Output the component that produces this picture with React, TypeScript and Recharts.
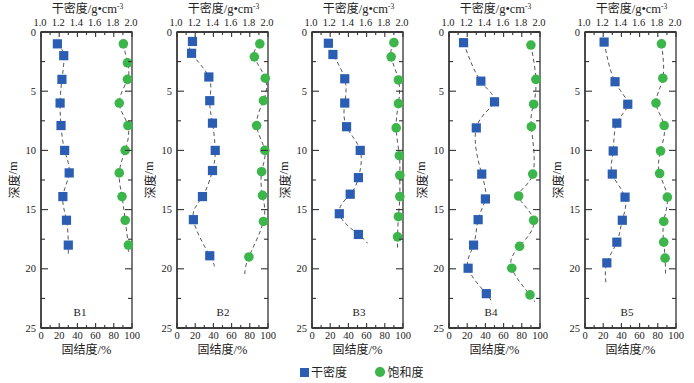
import React from 'react';
import { ScatterChart, Scatter, XAxis, YAxis, ReferenceArea } from 'recharts';

// ---------- tick values ----------
const depthTicks = [0, 2.5, 5, 7.5, 10, 12.5, 15, 17.5, 20, 22.5, 25];
const densityTicks = [1.0, 1.1, 1.2, 1.3, 1.4, 1.5, 1.6, 1.7, 1.8, 1.9, 2.0];
const saturationTicks = [0, 10, 20, 30, 40, 50, 60, 70, 80, 90, 100];
const panelNames = ['B1', 'B2', 'B3', 'B4', 'B5'];

// ---------- B1 ----------
const b1DensityDepth = [1.0, 2.0, 4.0, 6.0, 7.9, 10.0, 11.9, 13.9, 15.9, 18.0];
const b1Density = [1.18, 1.25, 1.23, 1.21, 1.22, 1.26, 1.31, 1.24, 1.28, 1.30];
const b1DensityEnd = [1.30, 18.8];
const b1SatDepth = [1.0, 2.6, 4.0, 6.0, 7.9, 10.0, 11.9, 13.9, 15.9, 18.0];
const b1Sat = [90.5, 95, 95, 86, 95.5, 92.5, 86, 89, 92.5, 96];
const b1SatEnd = [96, 18.6];

// ---------- B2 ----------
const b2DensityDepth = [0.8, 1.8, 3.8, 5.8, 7.7, 10.0, 11.7, 13.9, 15.85, 18.9];
const b2Density = [1.17, 1.16, 1.35, 1.36, 1.39, 1.42, 1.39, 1.28, 1.18, 1.36];
const b2DensityEnd = [1.41, 19.8];
const b2SatDepth = [1.0, 2.1, 3.9, 5.8, 7.9, 10.0, 11.8, 13.8, 16.0, 19.0];
const b2Sat = [91, 85, 97, 95, 87.5, 96.5, 93, 94, 95, 79];
const b2SatEnd = [74.5, 20.5];

// ---------- B3 ----------
const b3DensityDepth = [0.95, 1.9, 3.95, 6.0, 8.0, 10.0, 12.3, 13.7, 15.35, 17.1];
const b3Density = [1.18, 1.23, 1.36, 1.36, 1.38, 1.53, 1.51, 1.42, 1.30, 1.51];
const b3DensityEnd = [1.61, 17.85];
const b3SatDepth = [0.9, 2.1, 4.05, 6.05, 8.1, 10.45, 12.1, 13.9, 15.6, 17.3];
const b3Sat = [90, 87, 95, 95, 92.5, 96, 96.5, 96.5, 95, 94];
const b3SatEnd = [94, 18.4];

// ---------- B4 ----------
const b4DensityDepth = [0.9, 4.15, 5.9, 8.1, 12.0, 14.1, 15.85, 18.0, 19.95, 22.1];
const b4Density = [1.16, 1.35, 1.50, 1.30, 1.36, 1.40, 1.32, 1.27, 1.21, 1.41];
const b4DensityEnd = [1.47, 22.95];
const b4SatDepth = [1.1, 4.0, 6.1, 8.0, 12.0, 13.85, 15.9, 18.1, 19.95, 22.2];
const b4Sat = [90, 95.5, 93, 90.5, 92, 76.5, 93, 77.5, 69, 89];
const b4SatEnd = [94, 22.8];

// ---------- B5 ----------
const b5DensityDepth = [0.85, 4.2, 6.1, 7.7, 10.05, 12.0, 13.95, 15.9, 17.75, 19.5];
const b5Density = [1.21, 1.33, 1.47, 1.35, 1.31, 1.30, 1.44, 1.41, 1.35, 1.24];
const b5DensityEnd = [1.23, 21.2];
const b5SatDepth = [1.0, 3.9, 6.0, 7.9, 10.05, 11.95, 13.95, 16.0, 17.75, 19.1];
const b5Sat = [84, 85.5, 78, 87, 83, 82, 90.5, 86.5, 86.5, 88];
const b5SatEnd = [88.5, 20.4];

const AX = '#333';
const BLUE = '#2b5eb2';
const GREEN = '#3cb54a';
const NUM_FONT = "'Liberation Serif', 'DejaVu Serif', serif";
const CJK_FONT = "'Noto Sans CJK SC', sans-serif";

const CW = 152; // chart width (extra room on the right for edge labels)
const CH = 383;
const YW = 41; // y-axis width
const PW = 91; // plot width
const TOP_H = 32;
const BOT_H = 55;
const PLOT_BOTTOM = CH - BOT_H;

const TopTick = (p: any) => {
  const { x, y, payload } = p;
  const v = payload.value as number;
  const major = Math.round(v * 10) % 2 === 0;
  const len = major ? 5 : 3;
  return (
    <g>
      <line x1={x} y1={y} x2={x} y2={y + len} stroke={AX} strokeWidth={1.1} />
      {major && (
        <text x={x - 1} y={y - 6} textAnchor="middle" fontFamily={NUM_FONT} fontSize={10.5} fill="#222">
          {v.toFixed(1)}
        </text>
      )}
    </g>
  );
};

const BottomTick = (p: any) => {
  const { x, y, payload } = p;
  const v = payload.value as number;
  const major = v % 20 === 0;
  const len = major ? 5 : 3;
  return (
    <g>
      <line x1={x} y1={y} x2={x} y2={y - len} stroke={AX} strokeWidth={1.1} />
      {major && (
        <text x={x} y={y + 11} textAnchor="middle" fontFamily={NUM_FONT} fontSize={10.5} fill="#222">
          {v}
        </text>
      )}
    </g>
  );
};

const LeftTick = (p: any) => {
  const { x, y, payload } = p;
  const v = payload.value as number;
  const major = v % 5 === 0;
  const len = major ? 7 : 4;
  return (
    <g>
      <line x1={x} y1={y} x2={x + len} y2={y} stroke={AX} strokeWidth={1.1} />
      <line x1={x + PW} y1={y} x2={x + PW - len} y2={y} stroke={AX} strokeWidth={1.1} />
      {major && (
        <text x={x - 5} y={y + 3.5} textAnchor="end" fontFamily={NUM_FONT} fontSize={10.5} fill="#222">
          {v}
        </text>
      )}
    </g>
  );
};

const noShape = () => <g />;
const squareShape = (p: any) => (
  <rect x={p.cx - 4.6} y={p.cy - 4.6} width={9.2} height={9.2} fill={BLUE} />
);
const circleShape = (p: any) => <circle cx={p.cx} cy={p.cy} r={4.8} fill={GREEN} />;

const lineStyle = { stroke: '#444', strokeWidth: 0.9, strokeDasharray: '4 3' };

type PanelProps = {
  name: string;
  left: number;
  labelX: number;
  densDepth: number[];
  dens: number[];
  densEnd: number[];
  satDepth: number[];
  sat: number[];
  satEnd: number[];
};

function Panel({ name, left, labelX, densDepth, dens, densEnd, satDepth, sat, satEnd }: PanelProps) {
  const densPts = densDepth.map((d, i) => ({ v: dens[i], d }));
  const satPts = satDepth.map((d, i) => ({ v: sat[i], d }));
  const densLine = [...densPts, { v: densEnd[0], d: densEnd[1] }];
  const satLine = [...satPts, { v: satEnd[0], d: satEnd[1] }];
  const cx = YW + PW / 2;
  return (
    <div style={{ position: 'absolute', left, top: 0 }}>
      <ScatterChart width={CW} height={CH} margin={{ top: 0, right: CW - YW - PW, bottom: 0, left: 0 }}>
        <XAxis
          xAxisId="dens"
          orientation="top"
          type="number"
          dataKey="v"
          domain={[1, 2]}
          ticks={densityTicks}
          interval={0}
          height={TOP_H}
          tickSize={0}
          tickMargin={0}
          tickLine={false}
          tick={TopTick}
          axisLine={{ stroke: AX, strokeWidth: 1.3 }}
        />
        <XAxis
          xAxisId="sat"
          orientation="bottom"
          type="number"
          dataKey="v"
          domain={[0, 100]}
          ticks={saturationTicks}
          interval={0}
          height={BOT_H}
          tickSize={0}
          tickMargin={0}
          tickLine={false}
          tick={BottomTick}
          axisLine={{ stroke: AX, strokeWidth: 1.3 }}
        />
        <YAxis
          yAxisId="d"
          type="number"
          dataKey="d"
          domain={[0, 25]}
          reversed
          ticks={depthTicks}
          interval={0}
          width={YW}
          tickSize={0}
          tickMargin={0}
          tickLine={false}
          tick={LeftTick}
          axisLine={{ stroke: AX, strokeWidth: 1.3 }}
        />
        <ReferenceArea
          xAxisId="sat"
          yAxisId="d"
          x1={0}
          x2={100}
          y1={0}
          y2={25}
          fill="none"
          fillOpacity={0}
          stroke={AX}
          strokeWidth={1.3}
        />
        <Scatter data={densLine} xAxisId="dens" yAxisId="d" line={lineStyle} lineJointType="natural" shape={noShape} isAnimationActive={false} />
        <Scatter data={satLine} xAxisId="sat" yAxisId="d" line={lineStyle} lineJointType="natural" shape={noShape} isAnimationActive={false} />
        <Scatter data={densPts} xAxisId="dens" yAxisId="d" shape={squareShape} isAnimationActive={false} />
        <Scatter data={satPts} xAxisId="sat" yAxisId="d" shape={circleShape} isAnimationActive={false} />
        <text x={cx + 1} y={13} textAnchor="middle" fontFamily={CJK_FONT} fontSize={12} fill="#222">
          干密度<tspan fontFamily={NUM_FONT} fontSize={12.5}>/g•cm</tspan>
          <tspan dy={-4} fontSize={7.5} fontFamily={NUM_FONT}>-3</tspan>
        </text>
        <text x={cx} y={PLOT_BOTTOM + 26} textAnchor="middle" fontFamily={CJK_FONT} fontSize={12} fill="#222">
          固结度<tspan fontFamily={NUM_FONT} fontSize={12.5}>/%</tspan>
        </text>
        <text
          x={13}
          y={TOP_H + 148}
          textAnchor="middle"
          dominantBaseline="central"
          transform={`rotate(-90, 13, ${TOP_H + 148})`}
          fontFamily={CJK_FONT}
          fontSize={12}
          fill="#222"
        >
          深度<tspan fontFamily={NUM_FONT} fontSize={12.5}>/m</tspan>
        </text>
        <text x={labelX} y={316} textAnchor="middle" fontFamily={NUM_FONT} fontSize={11} fill="#222">
          {name}
        </text>
      </ScatterChart>
    </div>
  );
}

export default function App() {
  const panels = [
    { left: 0, labelX: 80, densDepth: b1DensityDepth, dens: b1Density, densEnd: b1DensityEnd, satDepth: b1SatDepth, sat: b1Sat, satEnd: b1SatEnd },
    { left: 136, labelX: 87, densDepth: b2DensityDepth, dens: b2Density, densEnd: b2DensityEnd, satDepth: b2SatDepth, sat: b2Sat, satEnd: b2SatEnd },
    { left: 271, labelX: 88, densDepth: b3DensityDepth, dens: b3Density, densEnd: b3DensityEnd, satDepth: b3SatDepth, sat: b3Sat, satEnd: b3SatEnd },
    { left: 408, labelX: 83, densDepth: b4DensityDepth, dens: b4Density, densEnd: b4DensityEnd, satDepth: b4SatDepth, sat: b4Sat, satEnd: b4SatEnd },
    { left: 544, labelX: 83, densDepth: b5DensityDepth, dens: b5Density, densEnd: b5DensityEnd, satDepth: b5SatDepth, sat: b5Sat, satEnd: b5SatEnd },
  ];
  return (
    <div style={{ position: 'absolute', left: 0, top: 0, width: 694, height: 383, background: '#fff', overflow: 'hidden' }}>
      {panels.map((p, i) => (
        <Panel key={panelNames[i]} name={panelNames[i]} {...p} />
      ))}
      <div
        style={{
          position: 'absolute',
          left: 300,
          top: 364,
          display: 'flex',
          alignItems: 'center',
          fontFamily: CJK_FONT,
          fontSize: 12,
          color: '#222',
          lineHeight: '16px',
        }}
      >
        <span style={{ display: 'inline-block', width: 9, height: 9, background: BLUE, marginRight: 2 }} />
        <span>干密度</span>
        <span style={{ display: 'inline-block', width: 9.5, height: 9.5, borderRadius: '50%', background: GREEN, marginLeft: 28, marginRight: 3 }} />
        <span>饱和度</span>
      </div>
    </div>
  );
}
